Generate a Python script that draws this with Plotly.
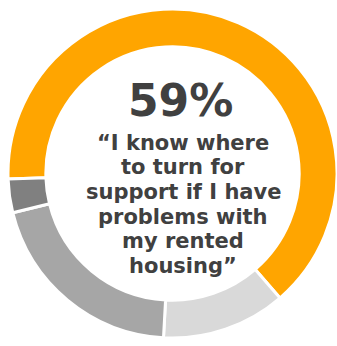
import plotly.graph_objects as go

# Data (share of the ring, %)
categories = ["Agree", "Neutral", "Disagree", "Don't know"]
values = [64.2, 12.2, 20.3, 3.3]
colors = ["#FFA500", "#D9D9D9", "#A6A6A6", "#808080"]

headline = "59%"
statement_lines = [
    "\u201cI know where",
    "to turn for",
    "support if I have",
    "problems with",
    "my rented",
    "housing\u201d",
]

W, H = 337, 346

fig = go.Figure(
    go.Pie(
        labels=categories,
        values=values,
        marker=dict(colors=colors, line=dict(color="white", width=3)),
        hole=0.77,
        sort=False,
        direction="clockwise",
        rotation=268.1,
        textinfo="none",
        hoverinfo="label+percent",
        domain=dict(x=[8 / W, 1.0], y=[(H - 340) / H, (H - 7) / H]),
        showlegend=False,
    )
)

text_color = "#404040"
font_family = "DejaVu Sans, Verdana, sans-serif"

annotations = [
    dict(
        text=f"<b>{headline}</b>",
        x=180 / W,
        y=1 - 100.5 / H,
        xref="paper",
        yref="paper",
        xanchor="center",
        yanchor="middle",
        showarrow=False,
        font=dict(family=font_family, size=44, color=text_color),
    )
]

first_baseline = 150
line_step = 24.6
fs = 21
for i, line in enumerate(statement_lines):
    mid = first_baseline + i * line_step - 0.346 * fs
    annotations.append(
        dict(
            text=f"<b>{line}</b>",
            x=183 / W,
            y=1 - mid / H,
            xref="paper",
            yref="paper",
            xanchor="center",
            yanchor="middle",
            showarrow=False,
            font=dict(family=font_family, size=fs, color=text_color),
        )
    )

fig.update_layout(
    width=W,
    height=H,
    margin=dict(l=0, r=0, t=0, b=0),
    paper_bgcolor="white",
    plot_bgcolor="white",
    annotations=annotations,
)

fig.write_html("out.html")
